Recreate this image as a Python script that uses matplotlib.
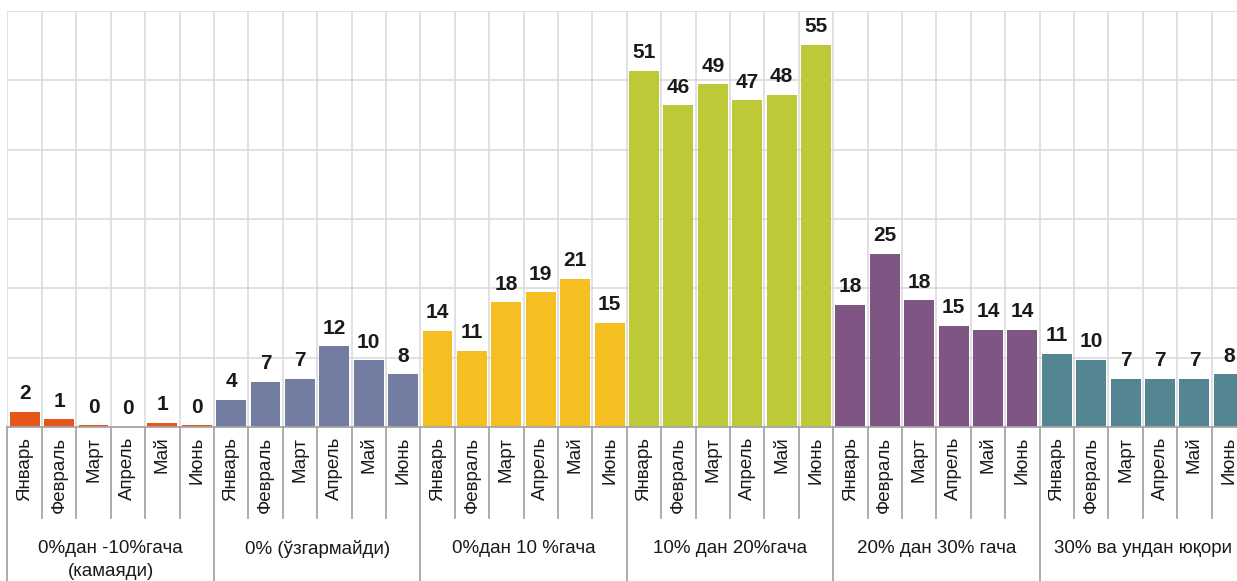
import matplotlib
matplotlib.use("Agg")
import matplotlib.pyplot as plt
import matplotlib.transforms as mtransforms
import numpy as np

plt.rcParams["font.family"] = ["Liberation Sans", "DejaVu Sans"]

# ------------------------------------------------------------------ #
# Data
# ------------------------------------------------------------------ #
months = ["Январь", "Февраль", "Март", "Апрель", "Май", "Июнь"]
groups = [
    "0%дан -10%гача\n(камаяди)",
    "0% (ўзгармайди)",
    "0%дан 10 %гача",
    "10% дан 20%гача",
    "20% дан 30% гача",
    "30% ва ундан юқори",
]
vals_minus10 = [2.2, 1.15, 0.25, 0.0, 0.58, 0.25]
vals_zero = [3.94, 6.54, 6.93, 11.64, 9.62, 7.6]
vals_0_10 = [13.9, 10.97, 18.0, 19.4, 21.4, 15.0]
vals_10_20 = [51.4, 46.4, 49.4, 47.1, 47.95, 55.1]
vals_20_30 = [17.65, 25.0, 18.3, 14.6, 14.0, 14.0]
vals_30_up = [10.6, 9.67, 6.93, 6.93, 6.93, 7.6]

series = [vals_minus10, vals_zero, vals_0_10, vals_10_20, vals_20_30, vals_30_up]
colors = ["#E4561A", "#737CA1", "#F5BF21", "#BEC937", "#7F5584", "#538592"]

# ------------------------------------------------------------------ #
# Figure
# ------------------------------------------------------------------ #
W, H = 1237, 581
fig = plt.figure(figsize=(W / 100, H / 100), dpi=100)
left_px, right_px, top_px, base_px = 7.5, 1246, 11, 427
ax = fig.add_axes([left_px / W, (H - base_px) / H,
                   (right_px - left_px) / W, (base_px - top_px) / H])

n_m = len(months)
n_cat = n_m * len(groups)
ax.set_xlim(0, n_cat)
ax.set_ylim(0, 60)

grid_c = "#D9D9D9"
for y in np.arange(10, 61, 10):
    ax.axhline(y, color=grid_c, lw=1.1, zorder=0)
for x in range(0, n_cat + 1):
    ax.axvline(x, color=grid_c, lw=1.1, zorder=0)

for g, (vals, col) in enumerate(zip(series, colors)):
    xs = g * n_m + np.arange(n_m) + 0.5
    ax.bar(xs, vals, width=0.87, color=col, zorder=2)
    for x, v in zip(xs, vals):
        ax.annotate(f"{v:.0f}", (x, v), xytext=(0, 9), textcoords="offset points",
                    ha="center", va="baseline", fontsize=15, fontweight="bold",
                    color="#1A1A1A", zorder=3)

for s in ax.spines.values():
    s.set_visible(False)
ax.axhline(0, color="#A6A6A6", lw=1.3, zorder=4, clip_on=False)
ax.set_yticks([])

ax.set_xticks(np.arange(n_cat) + 0.5)
ax.set_xticklabels(months * len(groups), rotation=90, fontsize=13.5, color="#1A1A1A")
ax.tick_params(axis="x", length=0, pad=7)

# separators under the axis
trans = mtransforms.blended_transform_factory(ax.transData, ax.transAxes)
h_ax = base_px - top_px
short_y = -(518 - base_px) / h_ax
long_y = -(H - base_px + 2) / h_ax
for x in range(0, n_cat + 1):
    y_end = long_y if x % n_m == 0 else short_y
    ax.plot([x, x], [0, y_end], color="#A6A6A6", lw=1.3, transform=trans,
            clip_on=False, zorder=1)

label_top = -(540 - base_px) / h_ax
for g, name in enumerate(groups):
    ax.text(g * n_m + n_m / 2, label_top, name, transform=trans, ha="center",
            va="top", fontsize=13.5, color="#1A1A1A", linespacing=1.45)

fig.savefig("out.png", dpi=100)
plt.close(fig)
